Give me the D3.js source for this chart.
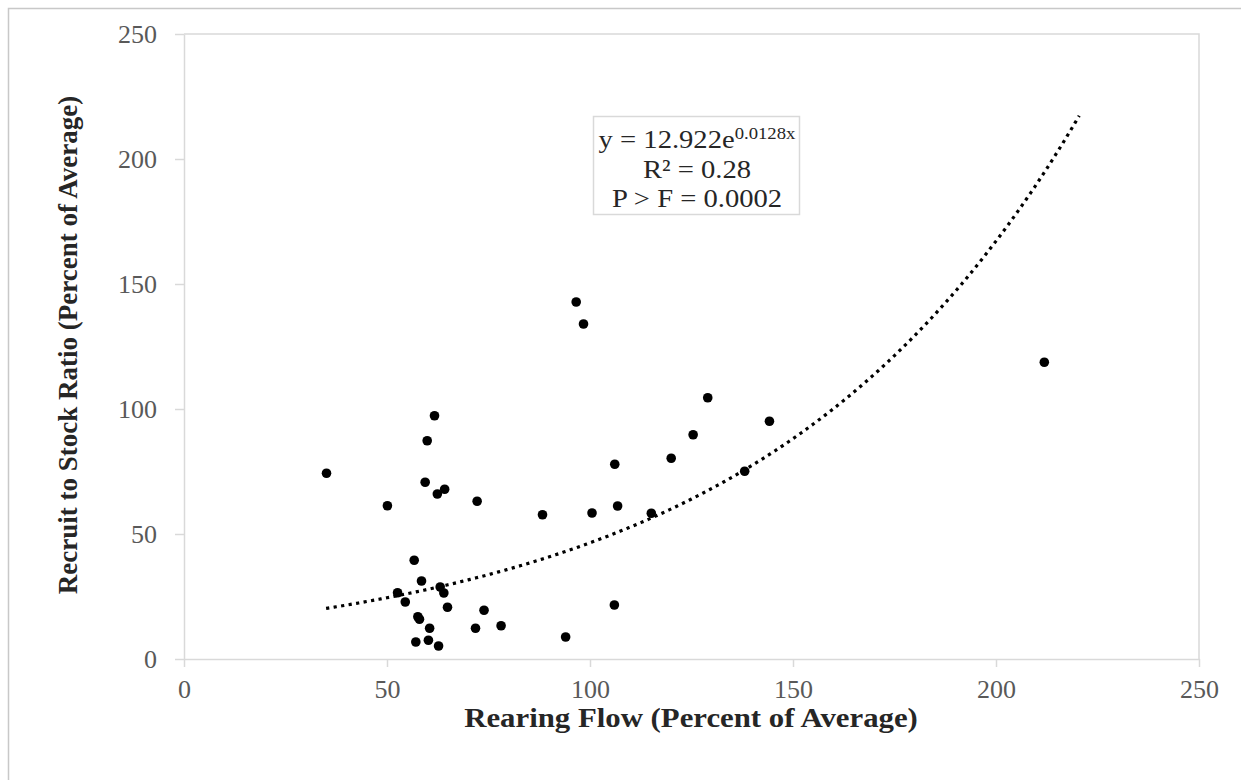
<!DOCTYPE html>
<html>
<head>
<meta charset="utf-8">
<script src="https://cdn.jsdelivr.net/npm/d3@7"></script>
<style>
  body { margin: 0; background: #fff; }
  text { font-family: "Liberation Serif", "Times New Roman", serif; }
</style>
</head>
<body>
<svg width="1241" height="780"></svg>
<script>
var svg = d3.select('svg');

// observed points (rearing flow %, recruit/stock %)
var flow = [61.7, 59.9, 35.1, 59.4, 62.4, 64.2, 50.1, 72.2,
  56.7, 58.5, 52.6, 54.5, 63.1, 64.0, 64.9, 73.9, 57.6, 58.0, 60.5, 71.8, 78.1, 57.1, 60.2, 62.7,
  88.3, 100.5, 106.8, 106.0, 94.0,
  96.6, 98.4, 129.0, 144.2, 125.4, 106.1, 120.0, 138.1, 115.1,
  211.9];
var ratio = [97.3, 87.3, 74.3, 70.7, 66.0, 67.9, 61.3, 63.1,
  39.5, 31.2, 26.5, 22.8, 28.8, 26.4, 20.7, 19.5, 16.9, 15.9, 12.3, 12.3, 13.3, 6.8, 7.5, 5.2,
  57.7, 58.4, 61.2, 21.6, 8.8,
  142.8, 134.0, 104.5, 95.1, 89.7, 77.9, 80.3, 75.1, 58.3,
  118.7];

var xTicks = [0, 50, 100, 150, 200, 250];
var yTicks = [0, 50, 100, 150, 200, 250];

// exponential fit y = 12.922 e^(0.0128x)
var fitA = 12.922, fitB = 0.0128;
var fitRange = [35, 220.5];
var fitLabels = ['R\u00B2 = 0.28', 'P > F = 0.0002'];

var x = d3.scaleLinear().domain([0, 250]).range([184, 1199]);
var y = d3.scaleLinear().domain([0, 250]).range([659, 34]);

// outer frame
svg.append('rect')
  .attr('x', 8.5).attr('y', 8.5)
  .attr('width', 1300).attr('height', 900)
  .attr('fill', 'none').attr('stroke', '#c8c8c8').attr('stroke-width', 1.5);

// plot area border (top + right)
svg.append('path')
  .attr('d', 'M' + x(0) + ',' + y(250) + 'H' + x(250) + 'V' + y(0))
  .attr('fill', 'none').attr('stroke', '#d9d9d9').attr('stroke-width', 1.5);

var xAxis = svg.append('g')
  .attr('transform', 'translate(0,' + y(0) + ')')
  .call(d3.axisBottom(x).tickValues(xTicks).tickSize(8).tickPadding(13).tickSizeOuter(0));
var yAxis = svg.append('g')
  .attr('transform', 'translate(' + x(0) + ',0)')
  .call(d3.axisLeft(y).tickValues(yTicks).tickSize(9).tickPadding(18).tickSizeOuter(0));

[xAxis, yAxis].forEach(function (g) {
  g.select('.domain').attr('stroke', '#d9d9d9').attr('stroke-width', 1.5);
  g.selectAll('.tick line').attr('stroke', '#d9d9d9').attr('stroke-width', 1.5);
  g.selectAll('.tick text')
    .attr('fill', '#595959')
    .style('font-family', '"Liberation Serif", serif')
    .style('font-size', '26px');
});

// trend line
var fitData = d3.range(fitRange[0], fitRange[1] + 0.5, 0.5);
var line = d3.line()
  .x(function (d) { return x(d); })
  .y(function (d) { return y(fitA * Math.exp(fitB * d)); });
svg.append('path')
  .datum(fitData)
  .attr('d', line)
  .attr('fill', 'none')
  .attr('stroke', '#000')
  .attr('stroke-width', 3.2)
  .attr('stroke-dasharray', '3.2 4.4');

// points
svg.append('g')
  .selectAll('circle')
  .data(flow)
  .join('circle')
    .attr('cx', function (d) { return x(d); })
    .attr('cy', function (d, i) { return y(ratio[i]); })
    .attr('r', 4.8)
    .attr('fill', '#000');

// equation box
var box = svg.append('g');
box.append('rect')
  .attr('x', 593.5).attr('y', 116.5)
  .attr('width', 206).attr('height', 98)
  .attr('fill', '#fff').attr('stroke', '#d9d9d9').attr('stroke-width', 1.5);
var eq = box.append('text')
  .attr('transform', 'translate(697,148)scale(1.1,1)')
  .attr('text-anchor', 'middle')
  .attr('fill', '#262626')
  .style('font-size', '26px');
eq.append('tspan').text('y = ' + fitA + 'e');
eq.append('tspan').attr('dy', -9).style('font-size', '17px').text(fitB + 'x');
fitLabels.forEach(function (t, i) {
  box.append('text')
    .attr('transform', 'translate(697,' + (178 + i * 29) + ')scale(1.1,1)')
    .attr('text-anchor', 'middle')
    .attr('fill', '#262626')
    .style('font-size', '26px')
    .text(t);
});

// axis titles
svg.append('text')
  .attr('transform', 'translate(691,727)scale(1.1,1)')
  .attr('text-anchor', 'middle')
  .attr('fill', '#262626')
  .style('font-size', '28px').style('font-weight', 'bold')
  .text('Rearing Flow (Percent of Average)');
svg.append('text')
  .attr('transform', 'translate(77,345)rotate(-90)')
  .attr('text-anchor', 'middle')
  .attr('fill', '#262626')
  .style('font-size', '27px').style('font-weight', 'bold')
  .text('Recruit to Stock Ratio (Percent of Average)');
</script>
</body>
</html>
